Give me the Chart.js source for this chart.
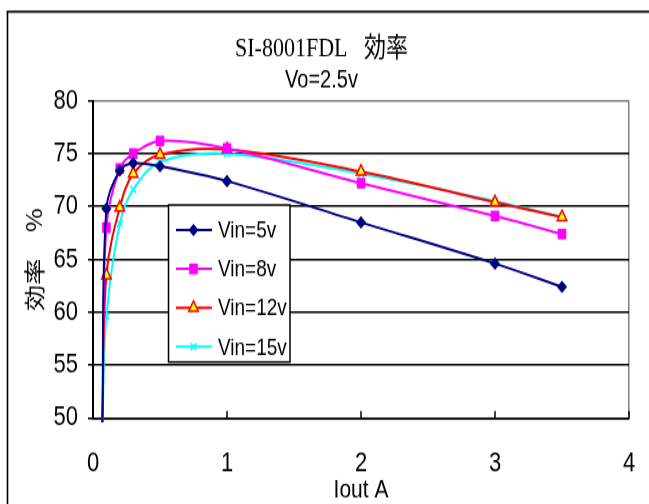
<!DOCTYPE html>
<html>
<head>
<meta charset="utf-8">
<script src="https://cdn.jsdelivr.net/npm/chart.js@4.4.0/dist/chart.umd.min.js"></script>
<style>
  html, body { margin: 0; padding: 0; background: #fff; width: 649px; height: 504px; overflow: hidden; }
  /* the reference picture is stretched vertically, so the whole chart is too */
  #wrap { width: 649px; height: 403px; transform: scaleY(1.25); transform-origin: 0 0; }
</style>
</head>
<body>
<div id="wrap"><canvas id="chart" width="649" height="403"></canvas></div>
<script>
// Iout (A) of the measured points, same for every Vin
var ioutA = [0.07, 0.1, 0.2, 0.3, 0.5, 1, 2, 3, 3.5];

// efficiency (%)
var vin5  = [49.6, 69.8, 73.4, 74.1, 73.8, 72.4, 68.5, 64.6, 62.4];
var vin8  = [49.6, 68.0, 73.6, 75.0, 76.2, 75.5, 72.2, 69.1, 67.4];
var vin12 = [49.6, 63.5, 69.9, 73.1, 74.9, 75.4, 73.3, 70.4, 69.0];
var vin15 = [49.6, 59.6, 68.4, 71.6, 74.2, 75.0, 73.1, 70.5, 69.0];

var seriesNames = ['Vin=5v', 'Vin=8v', 'Vin=12v', 'Vin=15v'];
var xTicks = [0, 1, 2, 3, 4];
var yTicks = [50, 55, 60, 65, 70, 75, 80];

var sans = "'Liberation Sans', Arial, sans-serif";


function toPoints(values) {
  return values.map(function (v, i) {
    return {x: ioutA[i], y: v};
  });
}


function makeSeries(label, values, color, style, radius, fill) {
  return {
    label: label,
    data: toPoints(values),
    borderColor: color,
    backgroundColor: fill || color,
    borderWidth: 2,
    pointStyle: style,
    // first point sits below the axis, no marker there
    pointRadius: values.map(function (v, i) { return i === 0 ? 0 : radius; }),
    pointBorderColor: color,
    pointBackgroundColor: fill || color,
    pointBorderWidth: 1.5,
    tension: 0.35,
    clip: false
  };
}


var frame = {
  id: 'frame',
  beforeDraw: function (chart) {
    var ctx = chart.ctx;
    ctx.save();
    ctx.fillStyle = '#fff';
    ctx.fillRect(0, 0, chart.width, chart.height);
    ctx.strokeStyle = '#000';
    ctx.lineWidth = 1.6;
    ctx.beginPath();
    ctx.moveTo(6.5, 9.4);
    ctx.lineTo(chart.width, 9.4);
    ctx.moveTo(7.5, 9.4);
    ctx.lineTo(7.5, chart.height);
    ctx.stroke();
    ctx.restore();
  }
};


// x ticks point up into the plot
var innerTicks = {
  id: 'innerTicks',
  afterDatasetsDraw: function (chart) {
    var ctx = chart.ctx;
    var xs = chart.scales.x;
    var bottom = chart.chartArea.bottom;
    ctx.save();
    ctx.strokeStyle = '#000';
    ctx.lineWidth = 1.5;
    xTicks.slice(1).forEach(function (v) {
      var px = xs.getPixelForValue(v);
      ctx.beginPath();
      ctx.moveTo(px, bottom);
      ctx.lineTo(px, bottom - 5.6);
      ctx.stroke();
    });
    ctx.restore();
  }
};


var legendBox = {
  id: 'legendBox',
  afterDatasetsDraw: function (chart) {
    var ctx = chart.ctx;
    var left = 168.5, top = 164, width = 121.5, height = 125.6;
    ctx.save();
    ctx.fillStyle = '#fff';
    ctx.fillRect(left, top, width, height);
    ctx.strokeStyle = '#000';
    ctx.lineWidth = 1.5;
    ctx.strokeRect(left, top, width, height);

    chart.data.datasets.forEach(function (ds, i) {
      var y = 184 + i * 31.1;
      ctx.strokeStyle = ds.borderColor;
      ctx.lineWidth = 2;
      ctx.beginPath();
      ctx.moveTo(176, y);
      ctx.lineTo(212, y);
      ctx.stroke();

      ctx.fillStyle = ds.pointBackgroundColor;
      ctx.strokeStyle = ds.pointBorderColor;
      ctx.lineWidth = ds.pointBorderWidth;
      Chart.helpers.drawPoint(ctx, {
        pointStyle: ds.pointStyle,
        radius: ds.pointRadius[1],
        borderWidth: ds.pointBorderWidth,
        rotation: 0
      }, 193.5, y);

      ctx.fillStyle = '#000';
      ctx.font = '19px ' + sans;
      ctx.textAlign = 'left';
      ctx.textBaseline = 'middle';
      ctx.fillText(ds.label, 218, y + 1);
    });
    ctx.restore();
  }
};


var ctx = document.getElementById('chart').getContext('2d');
new Chart(ctx, {
  type: 'line',
  data: {
    datasets: [
      makeSeries(seriesNames[0], vin5, '#000080', 'rectRot', 4),
      makeSeries(seriesNames[1], vin8, '#ff00ff', 'rect', 5),
      makeSeries(seriesNames[2], vin12, '#ff0000', 'triangle', 5.5, '#ffff00'),
      makeSeries(seriesNames[3], vin15, '#00ffff', 'crossRot', 4)
    ]
  },
  options: {
    responsive: false,
    animation: false,
    layout: {padding: {left: 14, right: 20, top: 0, bottom: 0}},
    plugins: {
      legend: {display: false},
      tooltip: {enabled: false},
      title: {
        display: true,
        text: 'SI-8001FDL   効率',
        color: '#000',
        font: {family: "'Liberation Serif', 'Noto Sans CJK JP', serif", size: 22, weight: 'normal'},
        padding: {top: 26, bottom: 0}
      },
      subtitle: {
        display: true,
        text: 'Vo=2.5v',
        color: '#000',
        font: {family: sans, size: 20, weight: 'normal'},
        padding: {top: 0, bottom: 4.2}
      }
    },
    scales: {
      x: {
        type: 'linear',
        min: xTicks[0],
        max: xTicks[xTicks.length - 1],
        ticks: {stepSize: 1, color: '#000', font: {family: sans, size: 22}, padding: 0},
        grid: {
          // invisible tick marks only push the labels down
          drawTicks: true,
          tickLength: 23,
          tickColor: 'rgba(0,0,0,0)',
          lineWidth: 1.5,
          color: function (c) {
            return c.tick && c.tick.value === 4 ? '#808080' : 'rgba(0,0,0,0)';
          }
        },
        border: {color: '#000', width: 1.6},
        title: {
          display: true,
          text: 'Iout A',
          color: '#000',
          font: {family: sans, size: 21},
          padding: {top: 0, bottom: -1.5}
        },
        afterFit: function (scale) { scale.height = 68.6; }
      },
      y: {
        min: yTicks[0],
        max: yTicks[yTicks.length - 1],
        ticks: {stepSize: 5, color: '#000', font: {family: sans, size: 22}, padding: 10},
        grid: {
          lineWidth: 1.5,
          tickLength: 5,
          tickColor: '#000',
          color: function (c) {
            return c.tick && c.tick.value === 80 ? '#808080' : '#000';
          }
        },
        border: {color: '#000', width: 2},
        title: {
          display: true,
          text: '効率　%',
          color: '#000',
          font: {family: "'Noto Sans CJK JP', sans-serif", size: 21},
          padding: {top: 7}
        },
        afterFit: function (scale) { scale.width = 79; }
      }
    }
  },
  plugins: [frame, innerTicks, legendBox]
});
</script>
</body>
</html>
